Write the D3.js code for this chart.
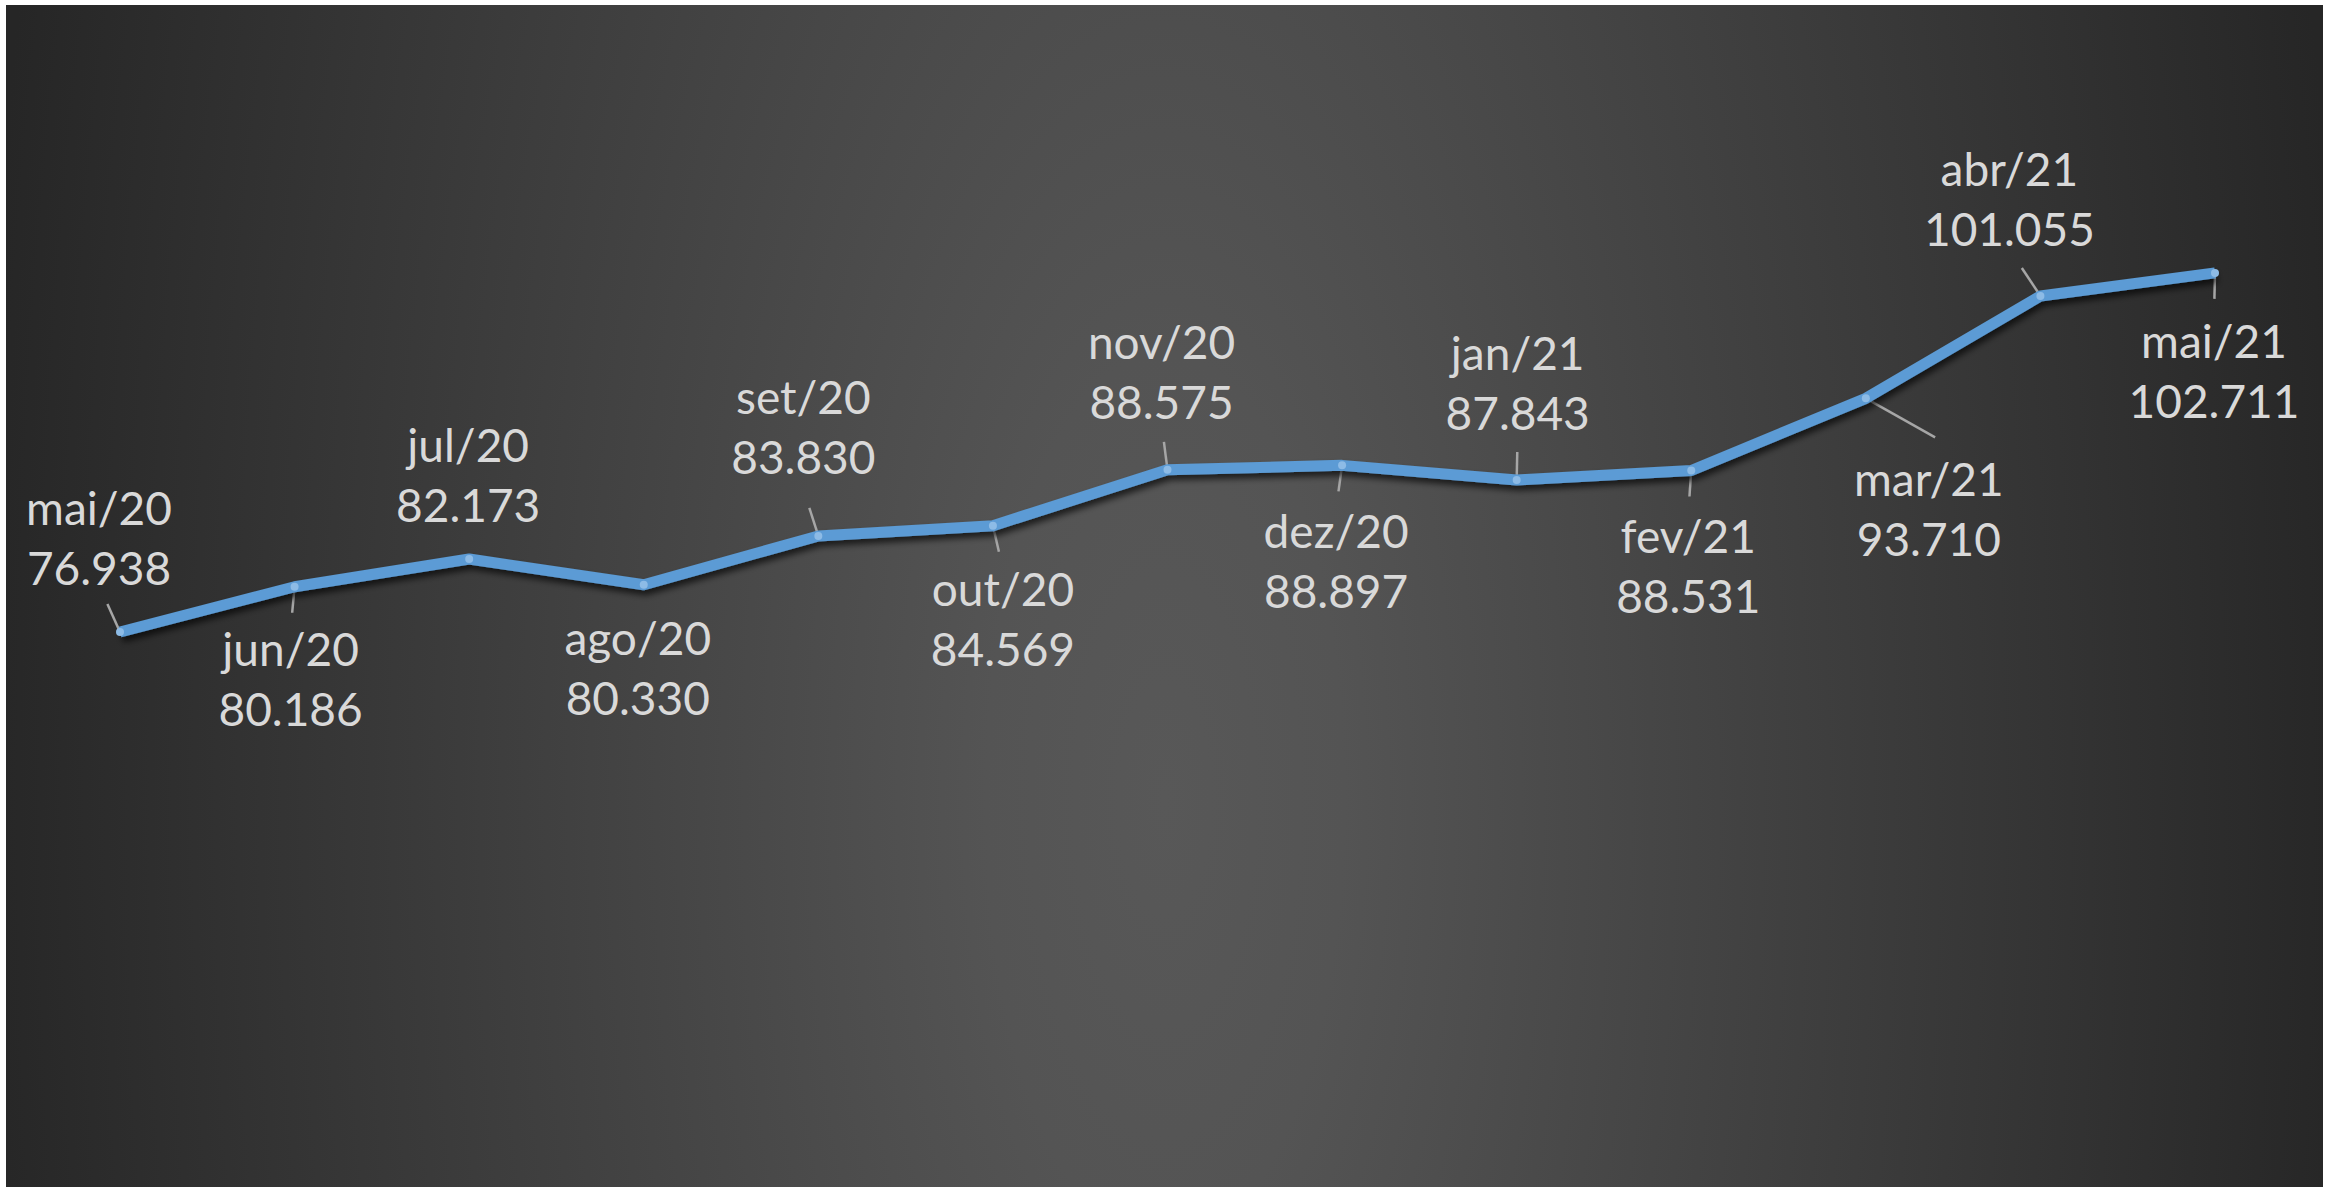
<!DOCTYPE html>
<html>
<head>
<meta charset="utf-8">
<script src="https://cdn.jsdelivr.net/npm/d3@7"></script>
<style>
  html, body { margin: 0; padding: 0; background: #ffffff; }
  svg { display: block; }
  .lbl { font-family: Lato, "Open Sans", sans-serif; font-size: 46px; fill: #d9d9d9; }
</style>
</head>
<body>
<svg id="chart" width="2335" height="1187"></svg>
<script>
// data
var months = ["mai/20", "jun/20", "jul/20", "ago/20", "set/20", "out/20", "nov/20",
              "dez/20", "jan/21", "fev/21", "mar/21", "abr/21", "mai/21"];
var values = [76.938, 80.186, 82.173, 80.330, 83.830, 84.569, 88.575,
              88.897, 87.843, 88.531, 93.710, 101.055, 102.711];
var valueLabels = ["76.938", "80.186", "82.173", "80.330", "83.830", "84.569", "88.575",
                   "88.897", "87.843", "88.531", "93.710", "101.055", "102.711"];

// label placement (layout only): horizontal shift and centre of first text line, relative to the point
var labelDx = [-21, -4, -1, -6, -15, 10, -6, -6, 1, -3, 63, -31, -1];
var labelDy = [-124, 63, -114, 54, -139, 64, -127, 66, -127, 66, 81, -127, 69];
var lineGap = 60;

var svg = d3.select("#chart");

// background panel with radial shade
var defs = svg.append("defs");
var grad = defs.append("radialGradient")
    .attr("id", "bg")
    .attr("gradientUnits", "userSpaceOnUse")
    .attr("cx", 1165).attr("cy", 800).attr("r", 1190)
    .attr("gradientTransform", "translate(1165,800) scale(1,2.5) translate(-1165,-800)");
grad.append("stop").attr("offset", "0").attr("stop-color", "#585858");
grad.append("stop").attr("offset", "0.15").attr("stop-color", "#545454");
grad.append("stop").attr("offset", "1").attr("stop-color", "#262626");

var shadow = defs.append("filter").attr("id", "shadow")
    .attr("x", "-10%").attr("y", "-50%").attr("width", "120%").attr("height", "200%");
shadow.append("feDropShadow")
    .attr("dx", 2).attr("dy", 5).attr("stdDeviation", 3)
    .attr("flood-color", "#000").attr("flood-opacity", 0.65);

svg.append("rect")
    .attr("x", 6).attr("y", 5)
    .attr("width", 2317).attr("height", 1182)
    .attr("fill", "url(#bg)");

// scales
var x = d3.scalePoint().domain(months).range([120, 2215]);
var y = d3.scaleLinear().domain([75, 105]).range([659, 241]);

var pts = months.map(function(m, i) {
  return { m: m, v: values[i], t: valueLabels[i], x: x(m), y: y(values[i]),
           dx: labelDx[i], dy: labelDy[i] };
});

// leader lines
var leaders = svg.append("g").attr("class", "leaders");
pts.forEach(function(d) {
  var up = d.dy < 0;
  var near = up ? d.dy + lineGap + 22 : d.dy - 22;
  if (Math.abs(near) < 36) return;
  var ex = d.dx > 40 ? d.dx * 1.1 : d.dx * 0.6;
  var ey = up ? -28 : (d.dx > 40 ? 39 : 26);
  leaders.append("line")
      .attr("x1", d.x).attr("y1", d.y)
      .attr("x2", d.x + ex).attr("y2", d.y + ey)
      .attr("stroke", "#a6a6a6")
      .attr("stroke-width", 2.5);
});

// line
var line = d3.line().x(function(d) { return d.x; }).y(function(d) { return d.y; });
svg.append("path")
    .datum(pts)
    .attr("d", line)
    .attr("fill", "none")
    .attr("stroke", "#5b9bd5")
    .attr("stroke-width", 11)
    .attr("stroke-linejoin", "round")
    .attr("filter", "url(#shadow)");

svg.append("g").selectAll("circle")
    .data(pts)
    .enter()
    .append("circle")
    .attr("cx", function(d) { return d.x; })
    .attr("cy", function(d) { return d.y; })
    .attr("r", 4)
    .attr("fill", "#8dbbe6");

// labels
var lbl = svg.append("g").selectAll("g.lbl")
    .data(pts)
    .enter()
    .append("g")
    .attr("transform", function(d) { return "translate(" + (d.x + d.dx) + "," + (d.y + d.dy) + ")"; });
lbl.append("text")
    .attr("class", "lbl")
    .attr("text-anchor", "middle")
    .attr("dy", "0.36em")
    .text(function(d) { return d.m; });
lbl.append("text")
    .attr("class", "lbl")
    .attr("text-anchor", "middle")
    .attr("y", lineGap)
    .attr("dy", "0.36em")
    .text(function(d) { return d.t; });
</script>
</body>
</html>
